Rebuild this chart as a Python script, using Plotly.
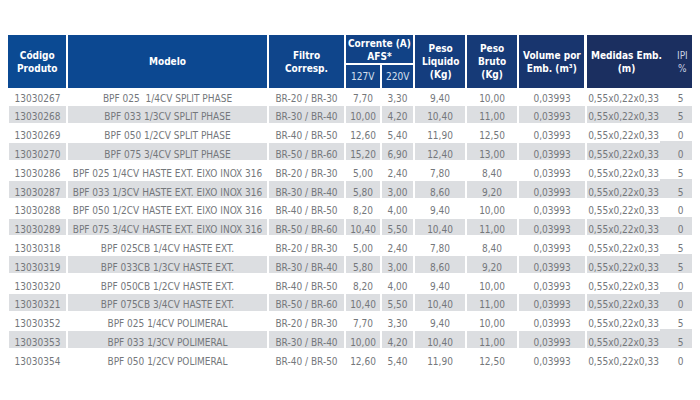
import plotly.graph_objects as go

# ---------------- data ----------------
codigos = ["13030267", "13030268", "13030269", "13030270", "13030286", "13030287",
           "13030288", "13030289", "13030318", "13030319", "13030320", "13030321",
           "13030352", "13030353", "13030354"]
modelos = ["BPF 025  1/4CV SPLIT PHASE", "BPF 033 1/3CV SPLIT PHASE",
           "BPF 050 1/2CV SPLIT PHASE", "BPF 075 3/4CV SPLIT PHASE",
           "BPF 025 1/4CV HASTE EXT. EIXO INOX 316", "BPF 033 1/3CV HASTE EXT. EIXO INOX 316",
           "BPF 050 1/2CV HASTE EXT. EIXO INOX 316", "BPF 075 3/4CV HASTE EXT. EIXO INOX 316",
           "BPF 025CB 1/4CV HASTE EXT.", "BPF 033CB 1/3CV HASTE EXT.",
           "BPF 050CB 1/2CV HASTE EXT.", "BPF 075CB 3/4CV HASTE EXT.",
           "BPF 025 1/4CV POLIMERAL", "BPF 033 1/3CV POLIMERAL", "BPF 050 1/2CV POLIMERAL"]
filtros = ["BR-20 / BR-30", "BR-30 / BR-40", "BR-40 / BR-50", "BR-50 / BR-60"] * 3 + \
          ["BR-20 / BR-30", "BR-30 / BR-40", "BR-40 / BR-50"]
corrente_127 = [7.70, 10.00, 12.60, 15.20, 5.00, 5.80, 8.20, 10.40, 5.00, 5.80, 8.20, 10.40, 7.70, 10.00, 12.60]
corrente_220 = [3.30, 4.20, 5.40, 6.90, 2.40, 3.00, 4.00, 5.50, 2.40, 3.00, 4.00, 5.50, 3.30, 4.20, 5.40]
peso_liquido = [9.40, 10.40, 11.90, 12.40, 7.80, 8.60, 9.40, 10.40, 7.80, 8.60, 9.40, 10.40, 9.40, 10.40, 11.90]
peso_bruto = [10.00, 11.00, 12.50, 13.00, 8.40, 9.20, 10.00, 11.00, 8.40, 9.20, 10.00, 11.00, 10.00, 11.00, 12.50]
volume = [0.03993] * 15
medidas = ["0,55x0,22x0,33"] * 15
ipi = [5, 5, 0, 0, 5, 5, 0, 0, 5, 5, 0, 0, 5, 5, 0]

header_top_labels = ["Código<br>Produto", "Modelo", "Filtro<br>Corresp.", "Corrente (A)<br>AFS*",
                     "Peso<br>Liquido<br>(Kg)", "Peso<br>Bruto<br>(Kg)", "Volume por<br>Emb. (m³)",
                     "Medidas Emb.<br>(m)"]
header_sub_labels = ["127V", "220V"]
ipi_label = "IPI<br>%"

# ---------------- helpers ----------------
# the page body has an 8px margin: the figure's (0,0) sits at (8,8) of the window
OFF = 8
W, H = 700 - OFF, 400 - OFF


def px(x):
    return (x - OFF) / W


def py(y):
    return 1 - (y - OFF) / H


def br(v, d=2):
    return f"{v:.{d}f}".replace(".", ",")


def nb(s):
    return s.replace(" ", "\u00a0")


FONT = "DejaVu Sans Condensed, sans-serif"
TEXT_GRAY = "#74777b"
ROW_GRAY = "#dcdee1"

# column boundaries (window pixels) for the body
col_edges = [8, 67, 268, 345, 381, 414, 466, 518, 586, 661, 700]
col_widths = [col_edges[i + 1] - col_edges[i] for i in range(len(col_edges) - 1)]

columns = [
    codigos,
    [nb(m) for m in modelos],
    [nb(f) for f in filtros],
    [br(v) for v in corrente_127],
    [br(v) for v in corrente_220],
    [br(v) for v in peso_liquido],
    [br(v) for v in peso_bruto],
    [br(v, 5) for v in volume],
    medidas,
    [str(v) for v in ipi],
]
n = len(codigos)
ncols = len(columns)
# first data row is rendered as the (white) table header row, the rest as cells
first_row = [c[0] for c in columns]
rest = [c[1:] for c in columns]
rest_fill = [ROW_GRAY if i % 2 == 0 else "white" for i in range(n - 1)]
fill_colors = [rest_fill] * ncols
line_colors = [["white"] * (n - 1) for _ in range(ncols - 1)] + [rest_fill]

body_top = 86
row_h = 18.8
body_font = dict(family=FONT, size=10, color=TEXT_GRAY)

fig = go.Figure()
fig.add_trace(go.Table(
    domain=dict(x=[px(col_edges[0]), 1], y=[0, py(body_top)]),
    columnwidth=col_widths,
    header=dict(values=first_row, align="center", height=row_h,
                fill=dict(color="white"), line=dict(color="white", width=2),
                font=body_font),
    cells=dict(values=rest, align="center", height=row_h,
               fill=dict(color=fill_colors),
               line=dict(color=line_colors, width=2),
               font=body_font),
))

# ---------------- header (shapes + annotations) ----------------
hdr_top, hdr_bot = 35, 88
sub_split = 63
header_colors = ["#0b4a93", "#0c4891", "#0f458b", "#114286", "#143d7e", "#163a77", "#18356e", "#1b2f60"]

top_cells = [(8, 66), (68, 267), (269, 344), (346, 413), (415, 465), (467, 517), (519, 584), (587, 700)]
shapes = []
annotations = []
HFONT = dict(family=FONT, size=10, color="white", weight="bold")
for i, ((x0, x1), lab, col) in enumerate(zip(top_cells, header_top_labels, header_colors)):
    y1 = sub_split if i == 3 else hdr_bot
    shapes.append(dict(type="rect", xref="paper", yref="paper",
                       x0=px(x0), x1=px(x1), y0=py(y1), y1=py(hdr_top),
                       fillcolor=col, line=dict(width=0), layer="above"))
    cx = (x0 + x1) / 2
    if i == 7:
        cx = 626
    annotations.append(dict(text=lab, x=px(cx), y=py((hdr_top + y1) / 2 + 0.5),
                            xref="paper", yref="paper", showarrow=False,
                            xanchor="center", yanchor="middle", align="center",
                            font=HFONT))

sub_cells = [(346, 380), (382, 413)]
for (x0, x1), lab in zip(sub_cells, header_sub_labels):
    shapes.append(dict(type="rect", xref="paper", yref="paper",
                       x0=px(x0), x1=px(x1), y0=py(hdr_bot), y1=py(sub_split + 2),
                       fillcolor=header_colors[3], line=dict(width=0), layer="above"))
    annotations.append(dict(text=lab, x=px((x0 + x1) / 2), y=py((sub_split + 2 + hdr_bot) / 2),
                            xref="paper", yref="paper", showarrow=False,
                            xanchor="center", yanchor="middle",
                            font=dict(family=FONT, size=10, color="#d8e0ee")))

annotations.append(dict(text=ipi_label, x=px(682), y=py(62), xref="paper", yref="paper",
                        showarrow=False, xanchor="center", yanchor="middle", align="center",
                        font=dict(family=FONT, size=10, color="#c9d1e0")))

fig.update_layout(
    width=W, height=H,
    margin=dict(l=0, r=0, t=0, b=0),
    paper_bgcolor="white",
    plot_bgcolor="white",
    shapes=shapes,
    annotations=annotations,
)

fig.write_html("out.html")
